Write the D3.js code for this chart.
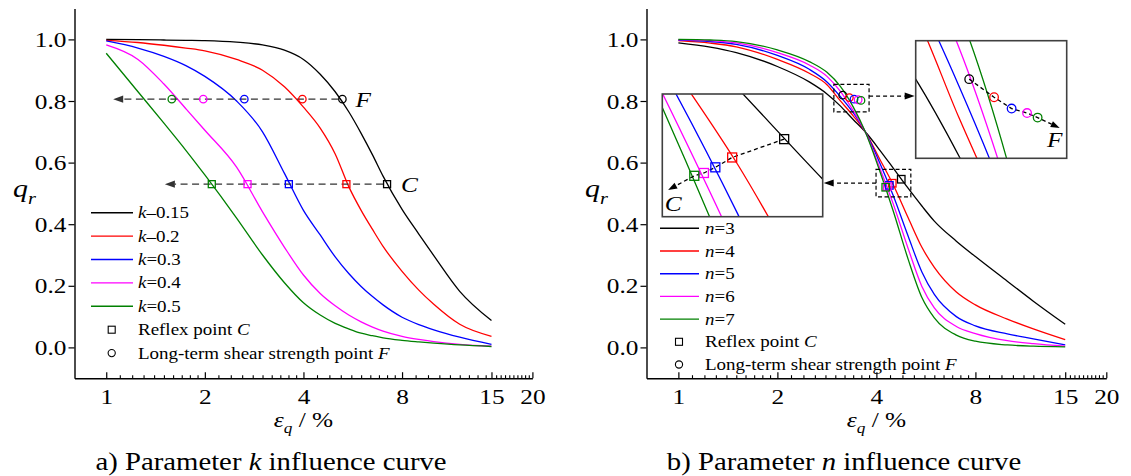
<!DOCTYPE html>
<html>
<head>
<meta charset="utf-8">
<script src="https://cdn.jsdelivr.net/npm/d3@7"></script>
<style>
  body { margin: 0; background: #fff; }
  svg { display: block; }
</style>
</head>
<body>
<div id="chart"></div>
<script>
// ---------- values ----------
var seriesColors = ["#000000", "#ff0000", "#0000ff", "#ff00ff", "#008000"];

var xMajorTicks = [1, 2, 4, 8, 15, 20];
var xMinorTicks = [1.1, 1.2, 1.3, 1.4, 1.5, 1.6, 1.7, 1.8, 1.9,
                   2.2, 2.4, 2.6, 2.8, 3, 3.2, 3.4, 3.6, 3.8,
                   4.4, 4.8, 5.2, 5.6, 6, 6.4, 6.8, 7.2, 7.6,
                   8.8, 9.6, 10.4, 11.2, 12, 12.8, 13.6, 14.4,
                   15.5, 16, 16.5, 17, 17.5, 18, 18.5, 19, 19.5];
var yTicks = [0, 0.2, 0.4, 0.6, 0.8, 1.0];

// a) parameter k
var kValues = ["0.15", "0.2", "0.3", "0.4", "0.5"];
var kSigns  = ["\u2013", "\u2013", "=", "=", "="];
var strainA = [1, 1.25, 1.5, 1.75, 2, 2.5, 3, 3.5, 4, 4.5, 5, 5.5, 6, 6.5, 7, 8, 9, 10, 12, 15];
var qrK015 = [1.000, 0.999, 0.998, 0.997, 0.996, 0.991, 0.982, 0.965, 0.935, 0.887, 0.830, 0.765, 0.695, 0.625, 0.556, 0.448, 0.368, 0.298, 0.182, 0.087];
var qrK02  = [0.997, 0.990, 0.981, 0.972, 0.963, 0.935, 0.900, 0.846, 0.780, 0.712, 0.628, 0.522, 0.445, 0.383, 0.328, 0.247, 0.186, 0.140, 0.075, 0.036];
var qrK03  = [0.995, 0.972, 0.945, 0.915, 0.880, 0.800, 0.700, 0.565, 0.445, 0.365, 0.294, 0.240, 0.198, 0.165, 0.138, 0.098, 0.074, 0.057, 0.033, 0.010];
var qrK04  = [0.982, 0.935, 0.855, 0.775, 0.705, 0.585, 0.440, 0.325, 0.235, 0.175, 0.135, 0.105, 0.083, 0.066, 0.053, 0.036, 0.026, 0.019, 0.010, 0.004];
var qrK05  = [0.955, 0.830, 0.728, 0.640, 0.560, 0.420, 0.300, 0.210, 0.145, 0.105, 0.078, 0.060, 0.046, 0.038, 0.031, 0.023, 0.018, 0.014, 0.008, 0.003];
var reflexStrainA = [7.2, 5.41, 3.61, 2.70, 2.10];
var reflexQrA     = [0.53, 0.53, 0.53, 0.53, 0.53];
var longStrainA   = [5.26, 3.97, 2.64, 1.978, 1.585];
var longQrA       = [0.806, 0.806, 0.806, 0.806, 0.806];
var arrowEndStrainA = [1.05, 1.51];   // F line, C line

// b) parameter n
var nValues = ["3", "4", "5", "6", "7"];
var strainB = [1, 1.25, 1.5, 2, 2.5, 2.83, 3.1, 3.4, 3.7, 4.1, 4.5, 5, 5.5, 6, 7, 8, 10, 12, 15];
var qrN3 = [0.989, 0.975, 0.957, 0.912, 0.862, 0.823, 0.785, 0.740, 0.700, 0.640, 0.582, 0.516, 0.459, 0.410, 0.345, 0.295, 0.215, 0.150, 0.075];
var qrN4 = [0.996, 0.988, 0.976, 0.935, 0.890, 0.853, 0.802, 0.752, 0.700, 0.610, 0.528, 0.420, 0.325, 0.260, 0.180, 0.138, 0.092, 0.060, 0.025];
var qrN5 = [0.998, 0.993, 0.984, 0.948, 0.903, 0.862, 0.816, 0.762, 0.700, 0.598, 0.493, 0.360, 0.245, 0.172, 0.100, 0.070, 0.044, 0.028, 0.008];
var qrN6 = [0.999, 0.996, 0.989, 0.957, 0.917, 0.880, 0.833, 0.769, 0.700, 0.581, 0.466, 0.320, 0.198, 0.128, 0.068, 0.045, 0.022, 0.012, 0.004];
var qrN7 = [1.000, 0.998, 0.993, 0.966, 0.928, 0.893, 0.849, 0.781, 0.700, 0.571, 0.443, 0.285, 0.162, 0.096, 0.040, 0.020, 0.008, 0.004, 0.002];
var reflexStrainB = [4.76, 4.47, 4.38, 4.32, 4.27];
var reflexQrB     = [0.546, 0.533, 0.526, 0.522, 0.520];
var longStrainB   = [3.16, 3.31, 3.42, 3.52, 3.59];
var longQrB       = [0.819, 0.811, 0.806, 0.804, 0.802];
var zoomFStrain  = [2.97, 3.80],   zoomFQr  = [0.765, 0.854];
var zoomCStrain  = [3.99, 5.09],   zoomCQr  = [0.489, 0.578];
var insetFStrain = [2.86, 3.79],   insetFQr = [0.784, 0.836];
var insetCStrain = [4.108, 4.987], insetCQr = [0.491, 0.578];
var insetFArrowEnd = [3.741, 0.7974];
var insetCArrowEnd = [4.137, 0.510];

// ---------- layout ----------
var W = 1131, H = 476;
var FONT = "'Liberation Serif', 'Times New Roman', Times, serif";
var SX = 1.15;                 // the source figure is a little wide
var PLOT_TOP = 8.6, PLOT_BOTTOM = 378.2;

var svg = d3.select("#chart").append("svg")
  .attr("width", W)
  .attr("height", H)
  .style("background", "#fff");

function label(parent, x, y, parts, size, anchor) {
  var t = parent.append("text")
    .attr("transform", "translate(" + x + "," + y + ") scale(" + SX + ",1)")
    .attr("font-family", FONT)
    .attr("text-anchor", anchor || "start")
    .attr("fill", "#000")
    .style("font-size", size + "px");
  parts.forEach(function(p) {
    var s = t.append("tspan").text(p[0]);
    var st = p[1] || "";
    if (st.indexOf("i") >= 0) s.attr("font-style", "italic");
    if (st.indexOf("s") >= 0) s.attr("dy", size * 0.28).style("font-size", (size * 0.68) + "px");
    if (st.indexOf("u") >= 0) s.attr("dy", -size * 0.28);
  });
  return t;
}

function panelScales(left, right) {
  return {
    x: d3.scaleLog().domain([0.8, 20]).range([left, right]),
    y: d3.scaleLinear().domain([-0.1, 1.1]).range([PLOT_BOTTOM, PLOT_TOP])
  };
}

function drawAxes(g, sc) {
  var left = sc.x.range()[0];
  g.append("g")
    .attr("transform", "translate(0," + PLOT_BOTTOM + ")")
    .call(d3.axisBottom(sc.x).tickValues(xMinorTicks).tickSizeInner(-3).tickSizeOuter(0).tickFormat(""))
    .call(function(s) { s.select(".domain").remove(); s.selectAll("line").attr("stroke-width", 1.1); });

  var xa = g.append("g")
    .attr("transform", "translate(0," + PLOT_BOTTOM + ")")
    .call(d3.axisBottom(sc.x).tickValues(xMajorTicks).tickSizeInner(-6).tickSizeOuter(0)
      .tickPadding(10).tickFormat(d3.format("d")));
  xa.select(".domain").attr("stroke-width", 1.4);
  xa.selectAll("line").attr("stroke-width", 1.2);
  xa.selectAll("text")
    .attr("fill", "#000")
    .attr("font-family", FONT)
    .style("font-size", "22px")
    .attr("transform", "scale(" + SX + ",1)");

  var ya = g.append("g")
    .attr("transform", "translate(" + left + ",0)")
    .call(d3.axisLeft(sc.y).tickValues(yTicks).tickSizeInner(6).tickSizeOuter(0)
      .tickPadding(1).tickFormat(d3.format(".1f")));
  ya.select(".domain").attr("stroke-width", 1.4);
  ya.selectAll("line").attr("stroke-width", 1.2);
  ya.selectAll("text")
    .attr("fill", "#000")
    .attr("font-family", FONT)
    .style("font-size", "22px")
    .attr("transform", "scale(" + SX + ",1)");
}

function drawCurves(g, sc, strain, series, width) {
  var line = d3.line()
    .x(function(d) { return sc.x(d[0]); })
    .y(function(d) { return sc.y(d[1]); })
    .curve(d3.curveMonotoneX);
  series.forEach(function(qr, i) {
    g.append("path")
      .attr("d", line(strain.map(function(s, j) { return [s, qr[j]]; })))
      .attr("fill", "none")
      .attr("stroke", seriesColors[i])
      .attr("stroke-width", width);
  });
}

function drawSquares(g, sc, xs, qs, size, width) {
  xs.forEach(function(s, i) {
    g.append("rect")
      .attr("x", sc.x(s) - size / 2)
      .attr("y", sc.y(qs[i]) - size / 2)
      .attr("width", size)
      .attr("height", size)
      .attr("fill", "none")
      .attr("stroke", seriesColors[i])
      .attr("stroke-width", width);
  });
}

function drawCircles(g, sc, xs, qs, r, width) {
  xs.forEach(function(s, i) {
    g.append("circle")
      .attr("cx", sc.x(s))
      .attr("cy", sc.y(qs[i]))
      .attr("r", r)
      .attr("fill", "none")
      .attr("stroke", seriesColors[i])
      .attr("stroke-width", width);
  });
}

function arrowHead(g, x1, y1, x2, y2, len, half, color) {
  var ang = Math.atan2(y2 - y1, x2 - x1) * 180 / Math.PI;
  g.append("path")
    .attr("d", "M0,0 L" + (-len) + "," + (-half) + " L" + (-len) + "," + half + " Z")
    .attr("transform", "translate(" + x2 + "," + y2 + ") rotate(" + ang + ")")
    .attr("fill", color || "#000")
    .attr("stroke", "none");
}

function dashedArrow(g, pts, dash, color, len, half) {
  var n = pts.length;
  var a = pts[n - 2], b = pts[n - 1];
  var dx = b[0] - a[0], dy = b[1] - a[1], d = Math.sqrt(dx * dx + dy * dy);
  var end = [b[0] - dx / d * len, b[1] - dy / d * len];
  var path = pts.slice(0, n - 1).concat([end]);
  g.append("path")
    .attr("d", d3.line()(path))
    .attr("fill", "none")
    .attr("stroke", color)
    .attr("stroke-width", 1.3)
    .attr("stroke-dasharray", dash);
  arrowHead(g, a[0], a[1], b[0], b[1], len, half, color);
}

function legend(g, x0, x1, xText, xMark, top, step, names) {
  names.forEach(function(nm, i) {
    var yy = top + i * step;
    g.append("line")
      .attr("x1", x0).attr("x2", x1)
      .attr("y1", yy).attr("y2", yy)
      .attr("stroke", seriesColors[i])
      .attr("stroke-width", 1.4);
    label(g, xText, yy + 5.5, nm, 16.5);
  });
  var yS = top + names.length * step, yC = yS + step;
  g.append("rect")
    .attr("x", xMark - 3.5).attr("y", yS - 3.5)
    .attr("width", 7).attr("height", 7)
    .attr("fill", "none").attr("stroke", "#000").attr("stroke-width", 1.1);
  label(g, xText, yS + 5.5, [["Reflex point "], ["C", "i"]], 16.5);
  g.append("circle")
    .attr("cx", xMark).attr("cy", yC).attr("r", 3.6)
    .attr("fill", "none").attr("stroke", "#000").attr("stroke-width", 1.1);
  label(g, xText, yC + 5.5, [["Long-term shear strength point "], ["F", "i"]], 16.5);
}

function axisTitles(g, sc) {
  var left = sc.x.range()[0], right = sc.x.range()[1];
  label(g, left - 61.5, 197, [["q", "i"], ["r", "is"]], 26);
  label(g, (left + right) / 2, 427, [["\u03b5", "i"], ["q", "is"], [" / %", "u"]], 22, "middle");
}

// ---------- panel a ----------
var scA = panelScales(74.5, 532.4);
var gA = svg.append("g").attr("id", "panel-a");
drawAxes(gA, scA);
drawCurves(gA, scA, strainA, [qrK015, qrK02, qrK03, qrK04, qrK05], 1.3);

[[longStrainA[0], longQrA[0], arrowEndStrainA[0], 4],
 [reflexStrainA[0], reflexQrA[0], arrowEndStrainA[1], 4]].forEach(function(r) {
  var yy = scA.y(r[1]);
  dashedArrow(gA, [[scA.x(r[0]) - r[3], yy], [scA.x(r[2]), yy]], "7,4.5", "#333", 10, 3.6);
});
drawSquares(gA, scA, reflexStrainA, reflexQrA, 7, 1.3);
drawCircles(gA, scA, longStrainA, longQrA, 3.7, 1.3);
label(gA, scA.x(longStrainA[0]) + 13, scA.y(longQrA[0]) + 7.5, [["F", "i"]], 22);
label(gA, scA.x(reflexStrainA[0]) + 14, scA.y(reflexQrA[0]) + 7.5, [["C", "i"]], 22);

legend(gA, 91, 133, 138, 111.7, 212.7, 23.4,
  kValues.map(function(v, i) { return [["k", "i"], [kSigns[i] + v]]; }));
axisTitles(gA, scA);
label(svg, 271, 470, [["a) Parameter "], ["k", "i"], [" influence curve"]], 25, "middle");

// ---------- panel b ----------
var scB = panelScales(646.5, 1106.3);
var gB = svg.append("g").attr("id", "panel-b");
var seriesB = [qrN3, qrN4, qrN5, qrN6, qrN7];
drawAxes(gB, scB);
drawCurves(gB, scB, strainB, seriesB, 1.3);
drawSquares(gB, scB, reflexStrainB, reflexQrB, 7.5, 1.3);
drawCircles(gB, scB, longStrainB, longQrB, 3.8, 1.3);

var insetFBox = [915.7, 40.7, 1066.7, 158.3];
var insetCBox = [662.3, 94, 822.7, 216.7];

function zoomBox(g, sc, xs, qs) {
  g.append("rect")
    .attr("x", sc.x(xs[0])).attr("y", sc.y(qs[1]))
    .attr("width", sc.x(xs[1]) - sc.x(xs[0]))
    .attr("height", sc.y(qs[0]) - sc.y(qs[1]))
    .attr("fill", "none")
    .attr("stroke", "#000")
    .attr("stroke-width", 1.2)
    .attr("stroke-dasharray", "4,2.5");
}
zoomBox(gB, scB, zoomFStrain, zoomFQr);
zoomBox(gB, scB, zoomCStrain, zoomCQr);

var fMidY = scB.y((zoomFQr[0] + zoomFQr[1]) / 2) - 2;
dashedArrow(gB, [[scB.x(zoomFStrain[1]), fMidY], [insetFBox[0] - 1, fMidY]], "4,3", "#000", 10, 3.5);
var cMidY = scB.y((zoomCQr[0] + zoomCQr[1]) / 2);
dashedArrow(gB, [[scB.x(zoomCStrain[0]), cMidY], [insetCBox[2] + 1, cMidY]], "4,3", "#000", 10, 3.5);

function drawInset(g, box, domX, domQ, markerType, mx, mq, arrowEnd, letter, lx, ly) {
  var sc = {
    x: d3.scaleLog().domain(domX).range([box[0], box[2]]),
    y: d3.scaleLinear().domain(domQ).range([box[3], box[1]])
  };
  var id = "clip-" + letter;
  g.append("clipPath").attr("id", id)
    .append("rect")
    .attr("x", box[0]).attr("y", box[1])
    .attr("width", box[2] - box[0]).attr("height", box[3] - box[1]);
  g.append("rect")
    .attr("x", box[0]).attr("y", box[1])
    .attr("width", box[2] - box[0]).attr("height", box[3] - box[1])
    .attr("fill", "#fff");
  var inner = g.append("g").attr("clip-path", "url(#" + id + ")");
  drawCurves(inner, sc, strainB, seriesB, 1.3);
  var pts = mx.map(function(s, i) { return [sc.x(s), sc.y(mq[i])]; });
  pts.push([sc.x(arrowEnd[0]), sc.y(arrowEnd[1])]);
  dashedArrow(inner, pts, "4,3", "#000", 9, 3.2);
  if (markerType === "square") drawSquares(inner, sc, mx, mq, 9, 1.3);
  else drawCircles(inner, sc, mx, mq, 4.3, 1.3);
  g.append("rect")
    .attr("x", box[0]).attr("y", box[1])
    .attr("width", box[2] - box[0]).attr("height", box[3] - box[1])
    .attr("fill", "none")
    .attr("stroke", "#404040")
    .attr("stroke-width", 1.6);
  label(g, sc.x(arrowEnd[0]) + lx, sc.y(arrowEnd[1]) + ly, [[letter, "i"]], 22, "middle");
}
drawInset(gB, insetFBox, insetFStrain, insetFQr, "circle", longStrainB, longQrB, insetFArrowEnd, "F", -5, 19);
drawInset(gB, insetCBox, insetCStrain, insetCQr, "square", reflexStrainB, reflexQrB, insetCArrowEnd, "C", 5, 21);

legend(gB, 660, 699, 705, 679, 228.3, 22.7,
  nValues.map(function(v) { return [["n", "i"], ["=" + v]]; }));
axisTitles(gB, scB);
label(svg, 844, 470, [["b) Parameter "], ["n", "i"], [" influence curve"]], 25, "middle");
</script>
</body>
</html>
